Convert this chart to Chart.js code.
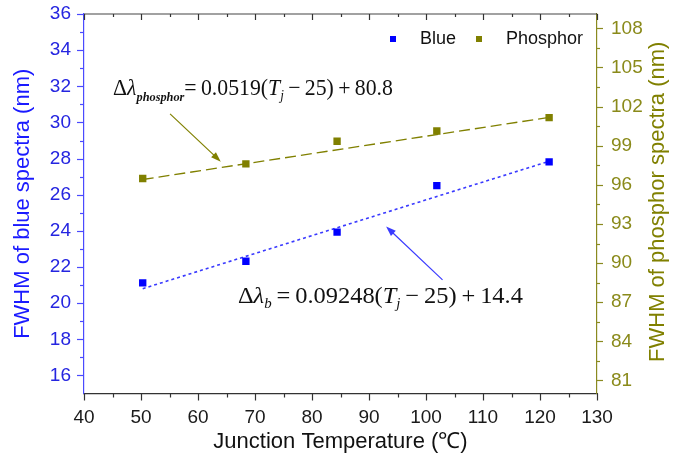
<!DOCTYPE html>
<html><head><meta charset="utf-8">
<script src="https://cdn.jsdelivr.net/npm/chart.js@4/dist/chart.umd.min.js"></script>
<style>html,body{margin:0;padding:0;background:#fff;}#wrap{width:686px;height:459px;}</style>
</head><body><div id="wrap"><canvas id="c" width="686" height="459"></canvas></div>
<script>
// ---- data ----
const temperatures = [50.3, 68.4, 84.4, 101.9, 121.6];
const blueFWHM = [21.12, 22.32, 23.93, 26.5, 27.82];
const phosphorFWHM = [96.49, 97.61, 99.34, 100.13, 101.15];
const fitTemps = [50.3, 121.6];
const blueFit = [20.8, 27.85];
const phosphorFit = [96.41, 101.17];
const xTicks = [40, 50, 60, 70, 80, 90, 100, 110, 120, 130];
const xMinor = [45, 55, 65, 75, 85, 95, 105, 115, 125];
const leftTicks = [16, 18, 20, 22, 24, 26, 28, 30, 32, 34, 36];
const leftMinor = [17, 19, 21, 23, 25, 27, 29, 31, 33, 35];
const rightTicks = [81, 84, 87, 90, 93, 96, 99, 102, 105, 108];
const rightMinor = [82.5, 85.5, 88.5, 91.5, 94.5, 97.5, 100.5, 103.5, 106.5];
const seriesNames = ['Blue', 'Phosphor'];

const SANS = '"Liberation Sans", Arial, sans-serif';
const SERIF = '"Liberation Serif", "Times New Roman", serif';
const BLUE = '#0000ff', OLIVE = '#808000';

function pts(xs, ys) { return xs.map((x, i) => ({x: x, y: ys[i]})); }
function noPad(s) { s.paddingTop = 0; s.paddingBottom = 0; s.paddingLeft = 0; s.paddingRight = 0; }

function drawRich(ctx, parts, x, y, targetW, color) {
  let w = 0;
  parts.forEach(p => { ctx.font = p.font; p.w = ctx.measureText(p.t).width; w += p.w; });
  const sx = targetW / w;
  ctx.save();
  ctx.fillStyle = color;
  ctx.textBaseline = 'alphabetic';
  ctx.textAlign = 'left';
  ctx.translate(x, y); ctx.scale(sx, 1);
  let cx = 0;
  parts.forEach(p => { ctx.font = p.font; ctx.fillText(p.t, cx, p.dy || 0); cx += p.w; });
  ctx.restore();
}

function arrow(ctx, x1, y1, x2, y2, color, lw, hl, hw) {
  const a = Math.atan2(y2 - y1, x2 - x1);
  ctx.save();
  ctx.strokeStyle = color; ctx.fillStyle = color; ctx.lineWidth = lw;
  ctx.beginPath(); ctx.moveTo(x1, y1);
  ctx.lineTo(x2 - Math.cos(a) * hl * 0.8, y2 - Math.sin(a) * hl * 0.8); ctx.stroke();
  ctx.beginPath();
  ctx.moveTo(x2, y2);
  ctx.lineTo(x2 - hl * Math.cos(a) + hw * Math.sin(a), y2 - hl * Math.sin(a) - hw * Math.cos(a));
  ctx.lineTo(x2 - hl * Math.cos(a) - hw * Math.sin(a), y2 - hl * Math.sin(a) + hw * Math.cos(a));
  ctx.closePath(); ctx.fill();
  ctx.restore();
}

const decor = {
  id: 'decor',
  afterDraw(chart) {
    const ctx = chart.ctx, a = chart.chartArea;
    const sx = chart.scales.x, sy = chart.scales.y, sy2 = chart.scales.y2;
    ctx.save();
    // top axis line
    ctx.strokeStyle = '#444'; ctx.lineWidth = 1.2;
    ctx.beginPath(); ctx.moveTo(a.left, a.top); ctx.lineTo(a.right, a.top); ctx.stroke();
    // x ticks: bottom outward, top inward
    ctx.strokeStyle = '#333'; ctx.lineWidth = 1.2;
    const tickX = (vals, len) => vals.forEach(v => {
      const px = Math.round(sx.getPixelForValue(v)) + 0.5;
      ctx.beginPath(); ctx.moveTo(px, a.bottom); ctx.lineTo(px, a.bottom + len); ctx.stroke();
      ctx.beginPath(); ctx.moveTo(px, a.top); ctx.lineTo(px, a.top + len - 1); ctx.stroke();
    });
    tickX(xTicks, 7); tickX(xMinor, 4);
    // left ticks outward
    ctx.strokeStyle = '#4a4aff';
    const tickL = (vals, len) => vals.forEach(v => {
      const py = Math.round(sy.getPixelForValue(v)) + 0.5;
      ctx.beginPath(); ctx.moveTo(a.left, py); ctx.lineTo(a.left - len, py); ctx.stroke();
    });
    tickL(leftTicks, 7); tickL(leftMinor, 4);
    // right ticks outward
    ctx.strokeStyle = '#8a8a20';
    const tickR = (vals, len) => vals.forEach(v => {
      const py = Math.round(sy2.getPixelForValue(v)) + 0.5;
      ctx.beginPath(); ctx.moveTo(a.right, py); ctx.lineTo(a.right + len, py); ctx.stroke();
    });
    tickR(rightTicks, 6); tickR(rightMinor, 3);

    // right axis title (reads bottom to top)
    ctx.save();
    ctx.translate(658, (a.top + a.bottom) / 2 - 2);
    ctx.rotate(-Math.PI / 2);
    ctx.font = '22px ' + SANS; ctx.fillStyle = OLIVE;
    ctx.textAlign = 'center'; ctx.textBaseline = 'middle';
    ctx.fillText('FWHM of phosphor spectra (nm)', 0, 0);
    ctx.restore();

    // legend
    ctx.font = '18px ' + SANS; ctx.textBaseline = 'middle'; ctx.textAlign = 'left';
    const ly = a.top + 25;
    ctx.fillStyle = BLUE; ctx.fillRect(a.right - 207, ly - 3, 6, 6);
    ctx.fillStyle = '#111'; ctx.fillText(seriesNames[0], a.right - 177, ly);
    ctx.fillStyle = OLIVE; ctx.fillRect(a.right - 121, ly - 3, 6, 6);
    ctx.fillStyle = '#111'; ctx.fillText(seriesNames[1], a.right - 91, ly);

    // equations
    const M = '23px ' + SERIF, I = 'italic 23px ' + SERIF;
    const eq1 = [
      {t: '\u0394', font: M}, {t: '\u03BB', font: I},
      {t: 'phosphor', font: 'italic bold 13px ' + SERIF, dy: 6},
      {t: '=\u20090.0519(', font: M}, {t: 'T', font: I},
      {t: 'j', font: 'italic 14px ' + SERIF, dy: 5},
      {t: '\u2009\u2212\u200925)\u2009+\u200980.8', font: M}
    ];
    const e1x = sx.getPixelForValue(45.1), e1r = sx.getPixelForValue(94.2);
    drawRich(ctx, eq1, e1x, sy.getPixelForValue(31.52), e1r - e1x, '#111');
    const eq2 = [
      {t: '\u0394', font: M}, {t: '\u03BB', font: I},
      {t: 'b', font: 'italic 14px ' + SERIF, dy: 5},
      {t: '\u2009=\u20090.09248(', font: M}, {t: 'T', font: I},
      {t: 'j', font: 'italic 14px ' + SERIF, dy: 5},
      {t: '\u2009\u2212\u200925)\u2009+\u200914.4', font: M}
    ];
    const e2x = sx.getPixelForValue(67.0), e2r = sx.getPixelForValue(117.0);
    drawRich(ctx, eq2, e2x, sy.getPixelForValue(20.02), e2r - e2x, '#111');

    // arrows
    arrow(ctx, sx.getPixelForValue(55.1), sy.getPixelForValue(30.47),
      sx.getPixelForValue(64.0), sy.getPixelForValue(27.83), OLIVE, 1.2, 10, 3.5);
    arrow(ctx, sx.getPixelForValue(102.9), sy.getPixelForValue(21.29),
      sx.getPixelForValue(93.0), sy.getPixelForValue(24.24), '#3a3aff', 1.2, 10, 3.5);
    ctx.restore();
  }
};

new Chart(document.getElementById('c').getContext('2d'), {
  type: 'scatter',
  data: {
    datasets: [
      {label: seriesNames[0], data: pts(temperatures, blueFWHM), yAxisID: 'y',
        pointStyle: 'rect', pointRadius: 5.2, backgroundColor: BLUE, borderColor: BLUE, borderWidth: 0},
      {label: seriesNames[1], data: pts(temperatures, phosphorFWHM), yAxisID: 'y2',
        pointStyle: 'rect', pointRadius: 5.2, backgroundColor: OLIVE, borderColor: OLIVE, borderWidth: 0},
      {label: 'Blue fit', data: pts(fitTemps, blueFit), yAxisID: 'y', showLine: true,
        borderColor: '#3a3aff', borderWidth: 1.6, borderDash: [3, 3], pointRadius: 0},
      {label: 'Phosphor fit', data: pts(fitTemps, phosphorFit), yAxisID: 'y2', showLine: true,
        borderColor: OLIVE, borderWidth: 1.3, borderDash: [11, 5], pointRadius: 0}
    ]
  },
  options: {
    responsive: false, animation: false, devicePixelRatio: 1,
    layout: {padding: {top: 14, left: 0, right: 0, bottom: 0}},
    plugins: {legend: {display: false}, tooltip: {enabled: false}},
    scales: {
      x: {
        type: 'linear', position: 'bottom', min: 40, max: 130,
        afterBuildTicks: s => { s.ticks = xTicks.map(v => ({value: v})); },
        afterFit: s => { s.height = 65.5; noPad(s); },
        grid: {display: true, drawOnChartArea: false, drawTicks: false},
        border: {display: true, color: '#333', width: 1.2},
        ticks: {padding: 13, color: '#1a1a1a', autoSkip: false, maxRotation: 0, font: {family: SANS, size: 19}},
        title: {display: true, text: 'Junction Temperature (\u2103)', color: '#111',
          font: {family: SANS, size: 22}, padding: {top: 0, bottom: 4}}
      },
      y: {
        type: 'linear', position: 'left', min: 15, max: 36,
        afterBuildTicks: s => { s.ticks = leftTicks.map(v => ({value: v})); },
        afterFit: s => { s.width = 84; noPad(s); },
        grid: {display: true, drawOnChartArea: false, drawTicks: false},
        border: {display: true, color: '#4a4aff', width: 1.2},
        ticks: {padding: 13, color: '#2525e0', font: {family: SANS, size: 19}},
        title: {display: true, text: 'FWHM of blue spectra (nm)', color: '#1a1aff',
          font: {family: SANS, size: 22}, padding: {top: 10, bottom: 0}}
      },
      y2: {
        type: 'linear', position: 'right', min: 80, max: 109.1,
        afterBuildTicks: s => { s.ticks = rightTicks.map(v => ({value: v})); },
        afterFit: s => { s.width = 89; noPad(s); },
        grid: {display: true, drawOnChartArea: false, drawTicks: false},
        border: {display: true, color: '#8a8a20', width: 1.2},
        ticks: {padding: 14, color: '#8a8a1a', font: {family: SANS, size: 19}},
        title: {display: false}
      }
    }
  },
  plugins: [decor]
});
</script>
</body></html>
